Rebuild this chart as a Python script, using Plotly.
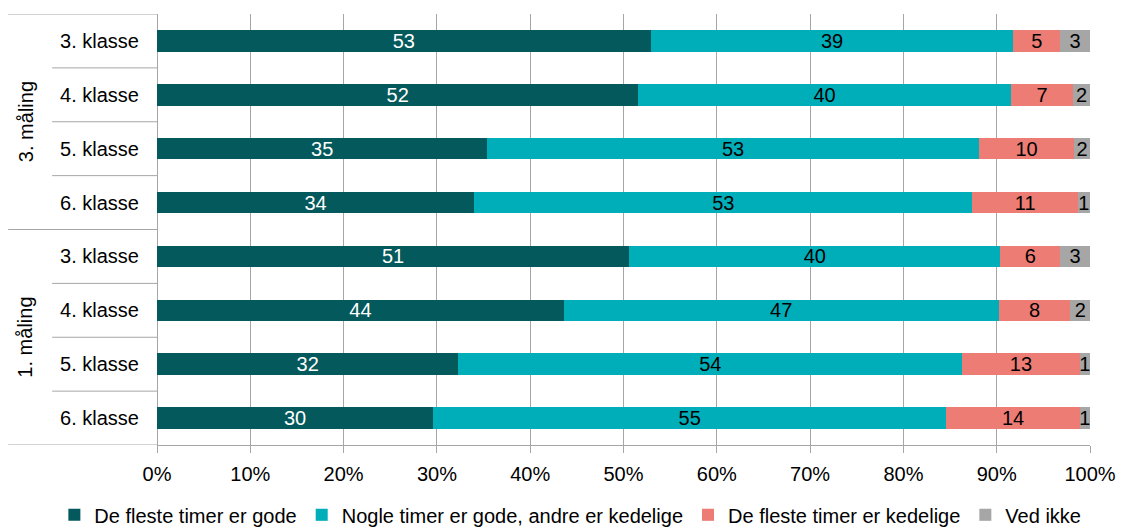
import plotly.graph_objects as go

# Survey rows, top to bottom
groups = ["3. måling", "1. måling"]
classes = ["3. klasse", "4. klasse", "5. klasse", "6. klasse"]
row_labels = classes + classes

# Percent shares per row (top to bottom)
gode = [52.9, 51.6, 35.4, 34.0, 50.6, 43.6, 32.3, 29.6]
blandet = [38.9, 39.9, 52.7, 53.4, 39.8, 46.6, 54.0, 55.0]
kedelige = [5.0, 6.7, 10.2, 11.3, 6.4, 7.7, 12.6, 14.3]
ved_ikke = [3.2, 1.8, 1.7, 1.3, 3.2, 2.1, 1.1, 1.1]

series = [
    ("De fleste timer er gode", gode, "#03595B", "white"),
    ("Nogle timer er gode, andre er kedelige", blandet, "#00AEB9", "black"),
    ("De fleste timer er kedelige", kedelige, "#EC7C74", "black"),
    ("Ved ikke", ved_ikke, "#A6A6A6", "black"),
]

FONT = "Liberation Sans, Arial, sans-serif"
GRID = "#A6A6A6"

rows = list(range(len(row_labels)))

fig = go.Figure()
for name, vals, color, tcolor in series:
    fig.add_trace(go.Bar(
        y=rows, x=vals, name=name, orientation="h",
        marker=dict(color=color, line=dict(width=0)),
        texttemplate="%{x:.0f}", textposition="inside", textangle=0,
        insidetextanchor="middle",
        textfont=dict(color=tcolor, size=20, family=FONT),
        hoverinfo="skip",
    ))

shapes = []
# dividers between measurement groups (left label area)
for yb in [-0.5, 3.5, 7.5]:
    shapes.append(dict(type="line", xref="paper", yref="y",
                       x0=-0.1595, x1=0, y0=yb, y1=yb,
                       line=dict(color=GRID, width=1)))
# dividers between classes
for yb in [0.5, 1.5, 2.5, 4.5, 5.5, 6.5]:
    shapes.append(dict(type="line", xref="paper", yref="y",
                       x0=-0.1124, x1=0, y0=yb, y1=yb,
                       line=dict(color=GRID, width=1)))

annotations = []
for i, g in enumerate(groups):
    annotations.append(dict(text=g, xref="paper", yref="y",
                            x=-0.155, y=i * 4 + 1.5, textangle=-90,
                            showarrow=False,
                            font=dict(size=20, family=FONT, color="black")))

fig.update_layout(
    barmode="stack",
    bargap=0.6,
    width=1121, height=531,
    margin=dict(l=157, r=31, t=14, b=86, autoexpand=False),
    paper_bgcolor="white", plot_bgcolor="white",
    font=dict(family=FONT, size=20, color="black"),
    uniformtext=dict(mode="show", minsize=20),
    shapes=shapes,
    annotations=annotations,
    legend=dict(orientation="h", xref="paper", yref="paper",
                x=-0.11, xanchor="left", y=-0.162, yanchor="middle",
                font=dict(size=20, family=FONT),
                itemwidth=30, traceorder="normal"),
    xaxis=dict(range=[0, 100], dtick=10, ticksuffix="%",
               showgrid=True, gridcolor=GRID, gridwidth=1,
               zeroline=True, zerolinecolor=GRID, zerolinewidth=1,
               showline=True, linecolor=GRID, linewidth=1,
               ticks="outside", ticklen=7, tickcolor=GRID, tickangle=0,
               ticklabelstandoff=4,
               tickfont=dict(size=20, family=FONT, color="black"),
               fixedrange=True),
    yaxis=dict(range=[7.5, -0.5], tickmode="array", tickvals=rows,
               ticktext=row_labels, showgrid=False, zeroline=False,
               showline=False, ticks="", ticklabelstandoff=17,
               tickfont=dict(size=20, family=FONT, color="black"),
               fixedrange=True),
)

fig.write_html("out.html")
